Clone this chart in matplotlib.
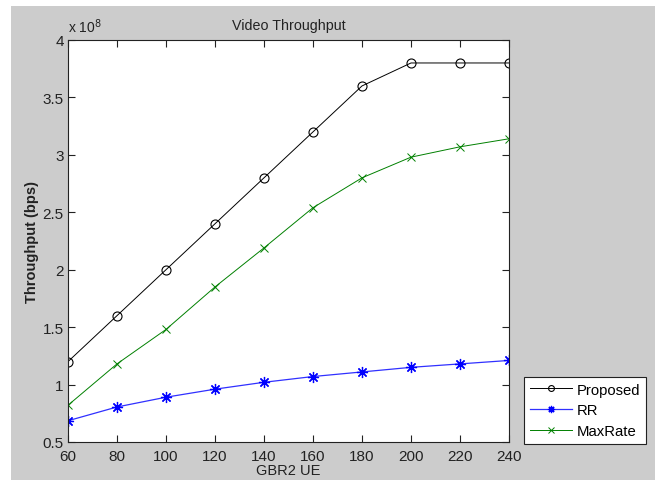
import matplotlib
matplotlib.use("Agg")
import matplotlib.pyplot as plt
from matplotlib.patches import Rectangle
from matplotlib.ticker import FuncFormatter

plt.rcParams['font.family'] = ['Liberation Sans', 'DejaVu Sans']

gbr2_ue = [60, 80, 100, 120, 140, 160, 180, 200, 220, 240]
proposed = [1.20e8, 1.60e8, 2.00e8, 2.40e8, 2.80e8, 3.20e8, 3.60e8, 3.80e8, 3.80e8, 3.80e8]
rr = [0.685e8, 0.805e8, 0.89e8, 0.96e8, 1.02e8, 1.07e8, 1.11e8, 1.15e8, 1.18e8, 1.21e8]
maxrate = [0.82e8, 1.18e8, 1.48e8, 1.85e8, 2.19e8, 2.54e8, 2.80e8, 2.98e8, 3.07e8, 3.14e8]

x_ticks = [60, 80, 100, 120, 140, 160, 180, 200, 220, 240]
y_ticks = [0.5e8, 1.0e8, 1.5e8, 2.0e8, 2.5e8, 3.0e8, 3.5e8, 4.0e8]

W, H = 662, 481
fig = plt.figure(figsize=(W / 100, H / 100), dpi=100, facecolor='white')
# grey figure panel
fig.patches.append(Rectangle((11 / W, 0), (655 - 11) / W, (481 - 7) / H,
                             transform=fig.transFigure, facecolor='#cccccc',
                             edgecolor='none', zorder=-10))

ax = fig.add_axes([68 / W, 1 - 443 / H, (509 - 68) / W, (443 - 41) / H])
ax.set_facecolor('white')

asterisk = (8, 2, 0)
ax.plot(gbr2_ue, proposed, color='black', lw=0.7, marker='o', ms=6.5,
        mfc='none', mec='black', mew=0.8, label='Proposed')
ax.plot(gbr2_ue, rr, color='#3030ff', lw=0.9, marker=asterisk, ms=8,
        mec='#0000ff', mew=0.9, label='RR')
ax.plot(gbr2_ue, maxrate, color='#008000', lw=0.7, marker='x', ms=6,
        mec='#008000', mew=0.7, label='MaxRate')

ax.set_xlim(60, 240)
ax.set_ylim(0.5e8, 4.0e8)
ax.set_xticks(x_ticks)
ax.set_yticks(y_ticks)
ax.yaxis.set_major_formatter(FuncFormatter(lambda v, p: f"{v / 1e8:g}"))
ax.tick_params(direction='in', top=True, right=True, length=5, width=0.8,
               labelsize=11, colors='#222222')
ax.tick_params(axis='x', pad=5)
ax.tick_params(axis='y', pad=3)
for s in ax.spines.values():
    s.set_linewidth(0.8)
    s.set_color('#222222')

ax.text(0.0, 1.012, r'x 10$^{8}$', transform=ax.transAxes, fontsize=10,
        ha='left', va='bottom', color='#222222')
ax.set_title('Video Throughput', fontsize=10.3, pad=8, color='#222222')
fig.text((68 + 509) / 2 / W, 2.5 / H, 'GBR2 UE', fontsize=10.5,
         ha='center', va='bottom', color='#222222')
ax.set_ylabel('Throughput (bps)', fontsize=10.5, fontweight='bold', labelpad=3,
              color='#222222')

leg = ax.legend(loc='lower left', bbox_to_anchor=(524 / W, 1 - 445 / H),
                bbox_transform=fig.transFigure, fontsize=10.7, frameon=True,
                fancybox=False, edgecolor='#222222', framealpha=1,
                handlelength=2.8, handletextpad=0.35, borderpad=0.4,
                labelspacing=0.45, borderaxespad=0, markerscale=0.65)
leg.get_frame().set_linewidth(0.8)

fig.savefig('out.png', dpi=100, facecolor=fig.get_facecolor())
